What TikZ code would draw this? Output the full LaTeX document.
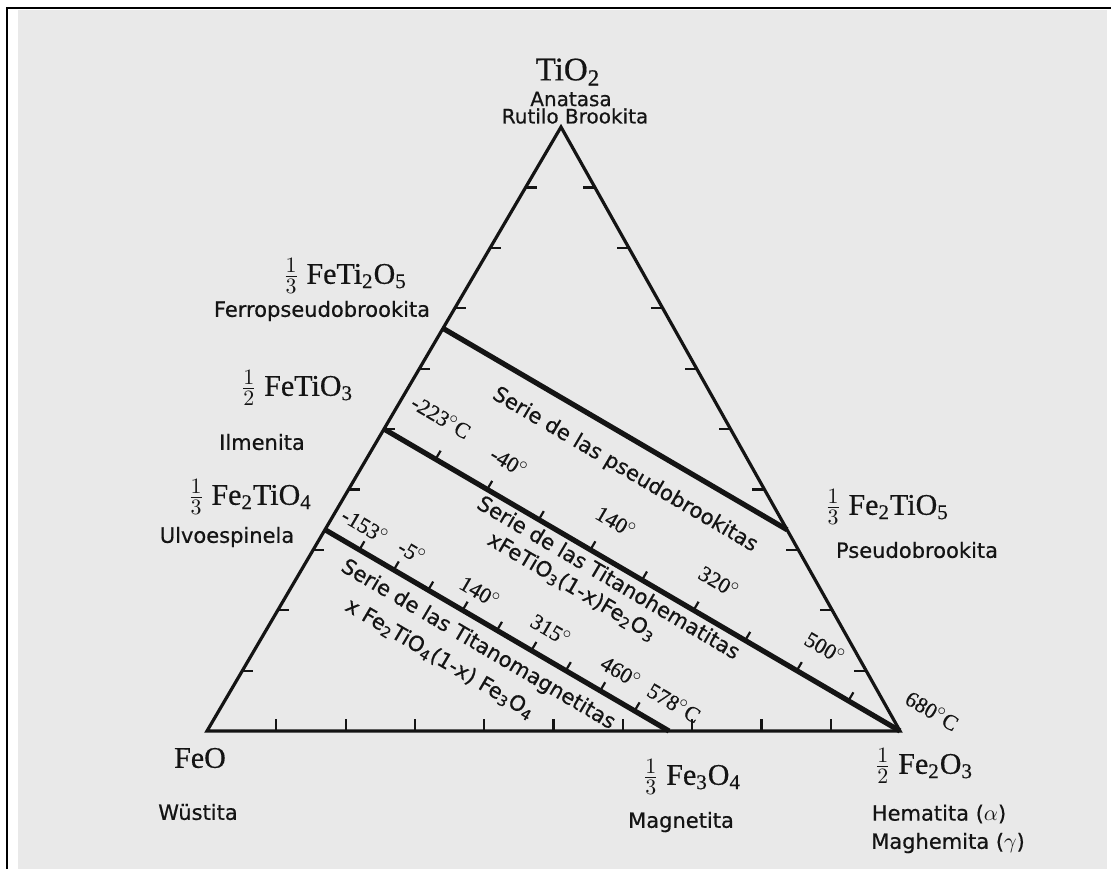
\documentclass[tikz,border=0pt]{standalone}
\usepackage{fontspec}
\setsansfont{DejaVu Sans}[FakeBold=0.6]
\newfontfamily\chemfont{Liberation Serif}[FakeBold=0.5]
\usetikzlibrary{
  calc,
  positioning
}
\definecolor{papergray}{HTML}{E9E9E9}
\definecolor{inkblack}{HTML}{141414}

\begin{document}
\begin{tikzpicture}[
      x=0.5pt, y=-0.5pt,
      edge/.style={draw=inkblack, line width=1.6pt, line join=miter},
      series/.style={draw=inkblack, line width=2.6pt},
      tick/.style={draw=inkblack, line width=1.1pt},
      formula/.style={font=\chemfont\fontsize{15}{17}\selectfont, inner sep=1pt, text=inkblack},
      mineral/.style={font=\sffamily\fontsize{10.5}{12}\selectfont, inner sep=1pt, text=inkblack},
      temp/.style={font=\chemfont\fontsize{11}{13}\selectfont, rotate=-30.5, inner sep=0pt, text=inkblack},
      serieslbl/.style={font=\sffamily\fontsize{10.5}{12}\selectfont, rotate=-30.5, inner sep=0pt, text=inkblack}
    ]
      \useasboundingbox (0,0) rectangle (1111,869);

      % Paper and frame
      \fill[white] (0,0) rectangle (1111,869);
      \fill[papergray] (18,10) rectangle (1107,869);
      \draw[line width=1.3pt] (7,869) -- (7,8) -- (1111,8);

      % Triangle
      \coordinate (feo) at (207,731);
      \coordinate (tio) at (561,127);
      \coordinate (hem) at (900,731);
      \draw[edge] (feo) -- (tio) -- (hem) -- cycle;

      % Ticks on the sides
      \foreach \k in {1,...,9} {
        \draw[tick] ($(feo)!\k/10!(hem)$) -- ++(0,-12);
        \draw[tick] ($(feo)!\k/10!(tio)$) -- ++(11,0);
        \draw[tick] ($(hem)!\k/10!(tio)$) -- ++(-12,0);
      }

      % Compositions on the sides
      \coordinate (ftitwo) at ($(feo)!2/3!(tio)$);
      \coordinate (ilm) at ($(feo)!1/2!(tio)$);
      \coordinate (ulv) at ($(feo)!1/3!(tio)$);
      \coordinate (psb) at ($(hem)!1/3!(tio)$);
      \coordinate (mag) at ($(feo)!2/3!(hem)$);

      % Solid solution series
      \draw[series] (ftitwo) -- (psb);
      \draw[series] (ilm) -- (hem);
      \draw[series] (ulv) -- (mag);
      \foreach \k in {1,...,9} {
        \draw[tick] ($(ilm)!\k/10!(hem)$) -- ++(5,-8.5);
        \draw[tick] ($(ulv)!\k/10!(mag)$) -- ++(5,-8.5);
      }

      % Apex
      \node[formula, font=\chemfont\fontsize{16.5}{18}\selectfont] (tiolbl) at (568,72) {TiO\textsubscript{2}};
      \node[mineral, font=\sffamily\fontsize{10}{12}\selectfont] (anat) at (571,99) {Anatasa};
      \node[mineral, font=\sffamily\fontsize{10}{12}\selectfont] (rut) at (575,116) {Rutilo Brookita};

      % Left side
      \node[formula] (ftitwolbl) at (345,276) {$\frac{1}{3}$ FeTi\textsubscript{2}O\textsubscript{5}};
      \node[mineral] (ferro) at (322,311) {Ferropseudobrookita};
      \node[formula] (ilmlbl) at (297,388) {$\frac{1}{2}$ FeTiO\textsubscript{3}};
      \node[mineral] (ilmname) at (262,442) {Ilmenita};
      \node[formula] (ulvlbl) at (250,497) {$\frac{1}{3}$ Fe\textsubscript{2}TiO\textsubscript{4}};
      \node[mineral] (ulvname) at (227,537) {Ulvoespinela};

      % Bottom
      \node[formula] (feolbl) at (200,758) {FeO};
      \node[mineral] (wus) at (198,812) {Wüstita};
      \node[formula] (maglbl) at (692,777) {$\frac{1}{3}$ Fe\textsubscript{3}O\textsubscript{4}};
      \node[mineral] (magname) at (681,822) {Magnetita};
      \node[formula] (hemlbl) at (924,766) {$\frac{1}{2}$ Fe\textsubscript{2}O\textsubscript{3}};
      \node[mineral] (hemname) at (939,814) {Hematita ($\alpha$)};
      \node[mineral] (maghname) at (948,843) {Maghemita ($\gamma$)};

      % Right side
      \node[formula] (psblbl) at (887,507) {$\frac{1}{3}$ Fe\textsubscript{2}TiO\textsubscript{5}};
      \node[mineral] (psbname) at (917,550) {Pseudobrookita};

      % Series names
      \node[serieslbl] (psbser) at (625,470) {Serie de las pseudobrookitas};
      \node[serieslbl] (thser) at (609,577) {Serie de las Titanohematitas};
      \node[serieslbl] (thform) at (572,587) {xFeTiO\textsubscript{3}(1-x)Fe\textsubscript{2}O\textsubscript{3}};
      \node[serieslbl] (tmser) at (478,645) {Serie de las Titanomagnetitas};
      \node[serieslbl] (tmform) at (440,659) {x Fe\textsubscript{2}TiO\textsubscript{4}(1-x) Fe\textsubscript{3}O\textsubscript{4}};

      % Temperatures, titanohematites
      \node[temp] (tha) at (441,417) {-223$^\circ$C};
      \node[temp] (thb) at (509,462) {-40$^\circ$};
      \node[temp] (thc) at (616,522) {140$^\circ$};
      \node[temp] (thd) at (719,582) {320$^\circ$};
      \node[temp] (the) at (825,648) {500$^\circ$};
      \node[temp] (thf) at (932,711) {680$^\circ$C};

      % Temperatures, titanomagnetites
      \node[temp] (tma) at (365,526) {-153$^\circ$};
      \node[temp] (tmb) at (412,552) {-5$^\circ$};
      \node[temp] (tmc) at (480,592) {140$^\circ$};
      \node[temp] (tmd) at (551,630) {315$^\circ$};
      \node[temp] (tme) at (621,672) {460$^\circ$};
      \node[temp] (tmf) at (674,703) {578$^\circ$C};
    \end{tikzpicture}
\end{document}
